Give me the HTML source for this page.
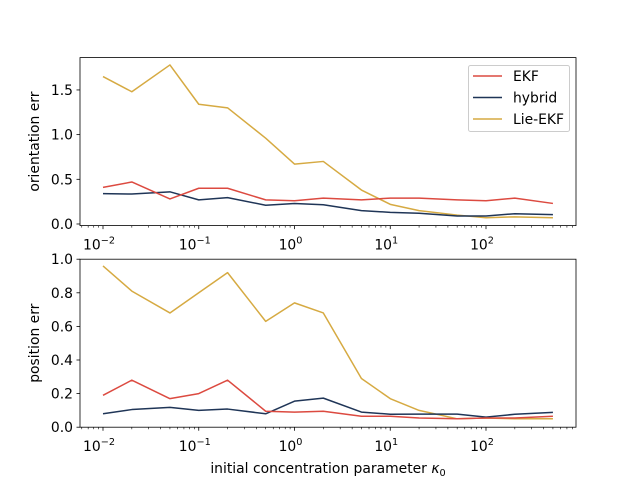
<!DOCTYPE html>
<html><head><meta charset="utf-8"><style>
body{margin:0;background:#fff;}
svg text{font-family:"DejaVu Sans","Liberation Sans",sans-serif;font-size:13.9px;fill:#000;}
</style></head><body>
<svg id="s" width="640" height="480" xmlns="http://www.w3.org/2000/svg">
<rect width="640" height="480" fill="#fff"/>
<g id="g"></g>
<text x="0" y="0" transform="translate(39,141.6) rotate(-90)" text-anchor="middle">orientation err</text>
<text x="0" y="0" transform="translate(39,343.2) rotate(-90)" text-anchor="middle">position err</text>
<text x="328" y="473" text-anchor="middle">initial concentration parameter <tspan font-style="italic">κ</tspan><tspan font-size="9.7" dy="3">0</tspan></text>
<rect x="468.5" y="65.5" width="101" height="66" rx="2" fill="#fff" fill-opacity="0.8" stroke="#ccc"/>
<line x1="473" y1="76" x2="502" y2="76" stroke="#dc4a40" stroke-width="1.5"/>
<line x1="473" y1="97.5" x2="502" y2="97.5" stroke="#1f3557" stroke-width="1.5"/>
<line x1="473" y1="119" x2="502" y2="119" stroke="#d6aa42" stroke-width="1.5"/>
<text x="513" y="81">EKF</text>
<text x="513" y="102.5">hybrid</text>
<text x="513" y="124">Lie-EKF</text>
</svg>
<script>
var g=document.getElementById('g'),NS='http://www.w3.org/2000/svg';
function el(t,a,txt){var e=document.createElementNS(NS,t);for(var k in a)e.setAttribute(k,a[k]);if(txt!=null)e.textContent=txt;g.appendChild(e);return e;}
var X=[0.01,0.02,0.05,0.1,0.2,0.5,1,2,5,10,20,50,100,200,500];
function px(v){return 294.5+95.75*Math.log10(v);}
var axes=[
 {top:57.6,bot:225.6,ymin:-0.018,ymax:1.862,ticks:[[0,'0.0'],[0.5,'0.5'],[1,'1.0'],[1.5,'1.5']],
  d:[[.41,.47,.28,.40,.40,.27,.26,.29,.27,.29,.29,.27,.26,.29,.23],
     [.34,.335,.36,.27,.295,.21,.23,.215,.15,.13,.12,.09,.09,.115,.105],
     [1.65,1.48,1.78,1.34,1.30,.96,.67,.70,.38,.22,.15,.10,.07,.08,.07]]},
 {top:259.2,bot:427.2,ymin:0,ymax:1.0,ticks:[[0,'0.0'],[0.2,'0.2'],[0.4,'0.4'],[0.6,'0.6'],[0.8,'0.8'],[1,'1.0']],
  d:[[.19,.28,.17,.20,.28,.095,.09,.095,.065,.065,.055,.05,.055,.055,.065],
     [.08,.105,.118,.10,.108,.08,.155,.173,.09,.077,.078,.078,.06,.077,.088],
     [.96,.81,.68,.80,.92,.63,.74,.68,.29,.17,.10,.05,.055,.05,.05]]}];
var cols=['#dc4a40','#1f3557','#d6aa42'];
axes.forEach(function(a){
 function py(v){return a.bot-(v-a.ymin)/(a.ymax-a.ymin)*(a.bot-a.top);}
 [2,1,0].forEach(function(i){
  var p=a.d[i].map(function(v,j){return px(X[j]).toFixed(2)+','+py(v).toFixed(2);}).join(' ');
  el('polyline',{points:p,fill:'none',stroke:cols[i],'stroke-width':1.5,'stroke-linejoin':'round'});
 });
 el('rect',{x:80,y:a.top,width:496,height:a.bot-a.top,fill:'none',stroke:'#000','stroke-width':0.8});
 a.ticks.forEach(function(t){var y=py(t[0]);el('line',{x1:76.5,x2:80,y1:y,y2:y,stroke:'#000','stroke-width':0.8});
  el('text',{x:73,y:y+5,'text-anchor':'end'},t[1]);});
 for(var e=-3;e<=2;e++){for(var m=1;m<10;m++){var v=m*Math.pow(10,e),x=px(v);if(x<80||x>576)continue;
   el('line',{x1:x,x2:x,y1:a.bot,y2:a.bot+(m==1?3.5:2),stroke:'#000','stroke-width':m==1?0.8:0.6});
   if(m==1){var t=el('text',{x:x-4,y:a.bot+24,'text-anchor':'middle'},'10');
    var ts=document.createElementNS(NS,'tspan');ts.setAttribute('font-size','9.7');ts.setAttribute('dy','-6');ts.textContent=(e<0?'\u2212':'')+Math.abs(e);t.appendChild(ts);}
 }}
});
</script>
</body></html>
